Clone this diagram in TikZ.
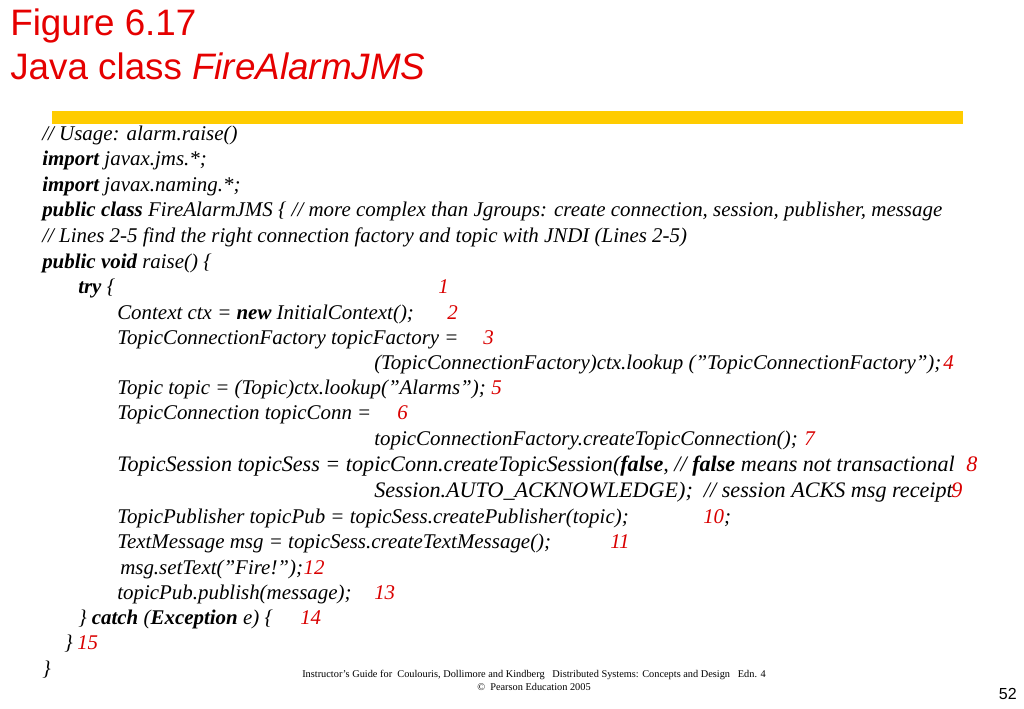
\documentclass[tikz,border=0pt]{standalone}
\usepackage{fontspec}
\setmainfont{Liberation Serif}
\newfontfamily\arial{Liberation Sans}
\definecolor{barcol}{RGB}{255,204,0}
\newcommand{\dq}{\char34\relax}
\begin{document}
\begin{tikzpicture}[x=0.75pt,y=-0.75pt]
    \tikzstyle{title}=[anchor=base west,inner sep=0pt,text=red!90!black,font=\arial\fontsize{27.6}{32}\selectfont]
	\tikzstyle{code}=[anchor=base west,inner sep=0pt,font=\fontsize{15.7}{18}\selectfont\itshape]
	\tikzstyle{big}=[code,font=\fontsize{16.6}{19}\selectfont\itshape]
	\tikzstyle{num}=[code,text=red!85!black]
	\tikzstyle{bignum}=[big,text=red!85!black]
	\tikzstyle{foot}=[anchor=base,inner sep=0pt,font=\fontsize{7.75}{9}\selectfont]
	\useasboundingbox (0,0) rectangle (1024,709);
	\node (t1) at (10,36) [title] {Figure 6.17};
	\node (t2) at (10,80) [title] {Java class \textit{FireAlarmJMS}};
	\fill [barcol] (52,111) rectangle (963,124);
	% code lines
	\node (l0)  at (42,141) [code] {// Usage: alarm.raise()};
	\node (l1)  at (42,166) [code] {\textbf{import} javax.jms.*;};
	\node (l2)  at (42,192) [code] {\textbf{import} javax.naming.*;};
	\node (l3)  at (42,217) [code] {\textbf{public class} FireAlarmJMS \{ // more complex than Jgroups: create connection, session, publisher, message};
	\node (l4)  at (42,243) [code] {// Lines 2-5 find the right connection factory and topic with JNDI (Lines 2-5)};
	\node (l5)  at (42,268) [code] {\textbf{public void} raise() \{};
	\node (l6)  at (78,293) [code] {\textbf{try} \{};
	\node (l7)  at (117,319) [code] {Context ctx = \textbf{new} InitialContext();};
	\node (l8)  at (117,344) [code] {TopicConnectionFactory topicFactory =};
	\node (l9)  at (374,369) [code] {(TopicConnectionFactory)ctx.lookup (\dq TopicConnectionFactory\dq);};
	\node (l10) at (117,394) [code] {Topic topic = (Topic)ctx.lookup(\dq Alarms\dq);};
	\node (l11) at (117,419) [code] {TopicConnection topicConn =};
	\node (l12) at (374,445) [code] {topicConnectionFactory.createTopicConnection();};
	\node (l13) at (117,471) [big] {TopicSession topicSess = topicConn.createTopicSession(\textbf{false}, // \textbf{false} means not transactional};
	\node (l14) at (374,497) [big] {Session.AUTO\_ACKNOWLEDGE);\ \ // session ACKS msg receipt};
	\node (l15) at (117,523) [code] {TopicPublisher topicPub = topicSess.createPublisher(topic);};
	\node (l16) at (117,548) [code] {TextMessage msg = topicSess.createTextMessage();};
	\node (l17) at (120,574) [code] {msg.setText(\dq Fire!\dq);};
	\node (l18) at (117,599) [code] {topicPub.publish(message);};
	\node (l19) at (78,624) [code] {\} \textbf{catch} (\textbf{Exception} e) \{};
	\node (l20) at (64,649) [code] {\}};
	\node (l21) at (42,675) [code] {\}};
	% line numbers
	\node (n1)  at (438,293) [num] {1};
	\node (n2)  at (447,319) [num] {2};
	\node (n3)  at (483,344) [num] {3};
	\node (n4)  at (943,369) [num] {4};
	\node (n5)  at (491,394) [num] {5};
	\node (n6)  at (397,419) [num] {6};
	\node (n7)  at (804,445) [num] {7};
	\node (n8)  at (966,471) [bignum] {8};
	\node (n9)  at (951,497) [bignum] {9};
	\node (n10) at (703,523) [num] {10\textcolor{black}{;}};
	\node (n11) at (610,548) [num] {11};
	\node (n12) at (l17.base east) [num] {12};
	\node (n13) at (374,599) [num] {13};
	\node (n14) at (300,624) [num] {14};
	\node (n15) at (77,649) [num] {15};
	% footer
	\node (f1) at (534,677) [foot] {Instructor's Guide for\ \ Coulouris, Dollimore and Kindberg\ \ \ Distributed Systems: Concepts and Design\ \ \ Edn. 4};
	\node (f2) at (534,690) [foot] {\textcopyright\ \ Pearson Education 2005};
	\node (pg) at (1017,699) [anchor=base east,inner sep=0pt,font=\arial\fontsize{12}{14}\selectfont] {52};
\end{tikzpicture}
\end{document}
